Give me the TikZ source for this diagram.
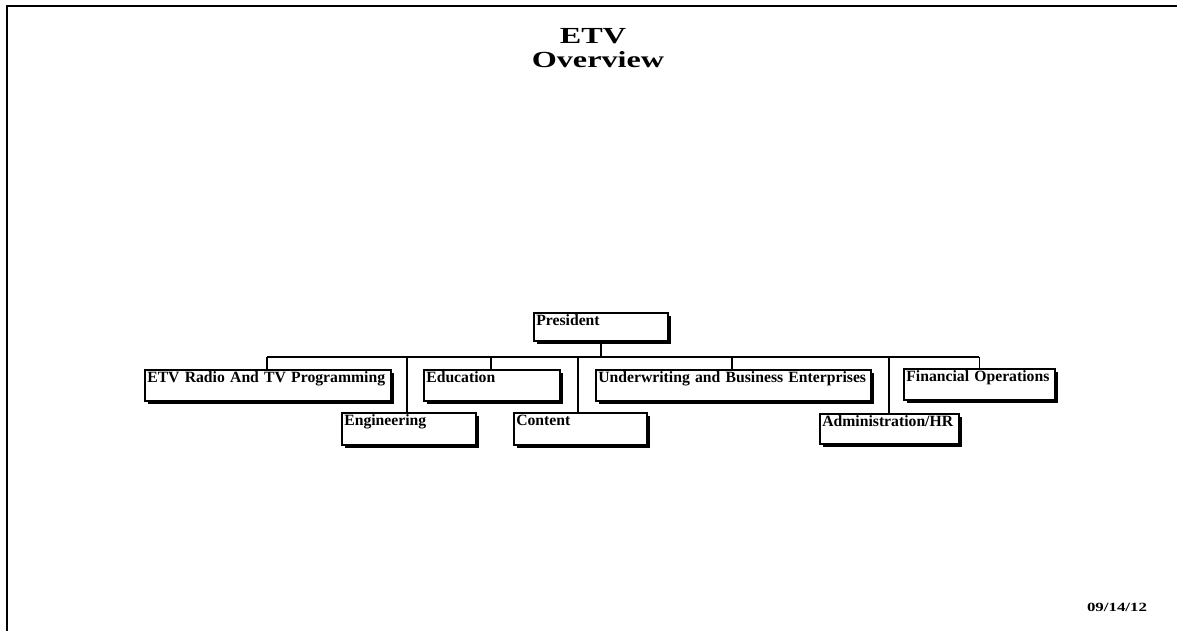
\documentclass[tikz,border=0pt]{standalone}
\usepackage{fontspec}
\usepackage{graphicx}
\setmainfont{Liberation Serif}
\usetikzlibrary{shadows}
\begin{document}
\begin{tikzpicture}[x=1pt,y=-1pt,
  orgbox/.style={draw=black, line width=1.6pt, fill=white,
    drop shadow={shadow xshift=3pt, shadow yshift=-3pt, fill=black, opacity=1},
    anchor=north west, inner xsep=2.5pt, inner ysep=2pt, align=left,
    font=\fontsize{15.7}{18}\selectfont\bfseries, text height=11pt},
  conn/.style={line width=1.5pt},
  frame/.style={line width=2.2pt},
  title/.style={font=\fontsize{23}{26}\selectfont\bfseries, align=center}]
\useasboundingbox (0,0) rectangle (1177,631);
% frame
\coordinate (fa) at (7,631);
\coordinate (fb) at (7,6);
\coordinate (fc) at (1177,6);
\draw[frame] (fa) -- (fb) -- (fc);
% title
\node[title, anchor=base] (t1) at (593,44) {\scalebox{1.4}[1]{ETV}};
\node[title, anchor=base] (t2) at (598,68) {\scalebox{1.4}[1]{Overview}};
% boxes
\node[orgbox, text width=129pt, text depth=13pt] (pres) at (533,312) {\mbox{President}};
\node[orgbox, text width=241pt, text depth=16pt] (etv) at (144,369) {\mbox{ETV Radio And TV Programming}};
\node[orgbox, text width=131pt, text depth=16pt] (edu) at (423,369) {\mbox{Education}};
\node[orgbox, text width=270pt, text depth=16pt] (und) at (595,369) {\mbox{Underwriting and Business Enterprises}};
\node[orgbox, text width=146pt, text depth=16pt] (fin) at (903,368) {\mbox{Financial Operations}};
\node[orgbox, text width=129pt, text depth=17pt] (eng) at (341,412) {\mbox{Engineering}};
\node[orgbox, text width=128pt, text depth=17pt] (con) at (513,412) {\mbox{Content}};
\node[orgbox, text width=134pt, text depth=15pt] (adm) at (819,413) {\mbox{Administration/HR}};
% date
\node[font=\fontsize{12.5}{14}\selectfont\bfseries, anchor=base] (date) at (1117,611) {\scalebox{1.35}[1]{09/14/12}};
% bus
\coordinate (b1) at (267,357);
\coordinate (b2) at (407,357);
\coordinate (b3) at (491,357);
\coordinate (b4) at (578,357);
\coordinate (b0) at (pres.south |- b1);
\coordinate (b5) at (732,357);
\coordinate (b6) at (889,357);
\coordinate (b7) at (fin.north |- b1);
\draw[conn] (pres.south) -- (b0);
\draw[conn] (b1) -- (b7);
\draw[conn] (b1) -- (b1 |- etv.north);
\draw[conn] (b2) -- (b2 |- eng.north);
\draw[conn] (b3) -- (b3 |- edu.north);
\draw[conn] (b4) -- (b4 |- con.north);
\draw[conn] (b5) -- (b5 |- und.north);
\draw[conn] (b6) -- (b6 |- adm.north);
\draw[conn] (b7) -- (fin.north);
\end{tikzpicture}
\end{document}
